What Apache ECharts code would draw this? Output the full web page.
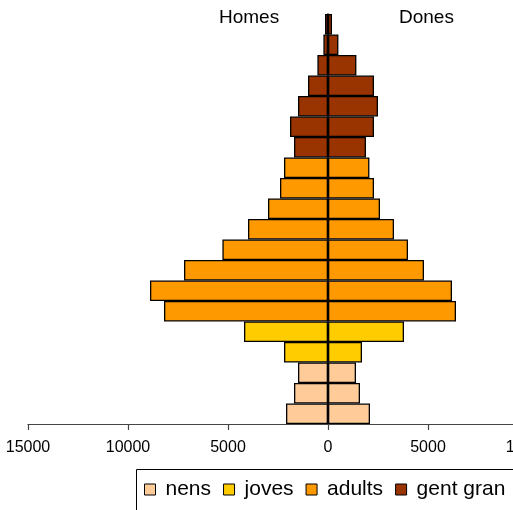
<!DOCTYPE html>
<html>
<head>
<meta charset="utf-8">
<script src="https://cdn.jsdelivr.net/npm/echarts@6/dist/echarts.min.js"></script>
<style>
html,body{margin:0;padding:0;background:#fff;}
#chart{width:513px;height:510px;}
</style>
</head>
<body>
<div id="chart"></div>
<script>
// Age groups, bottom to top
var ageGroups = ['0-4','5-9','10-14','15-19','20-24','25-29','30-34','35-39','40-44','45-49','50-54','55-59','60-64','65-69','70-74','75-79','80-84','85-89','90-94','95+'];
// group of each row
var groupOf = ['nens','nens','nens','joves','joves','adults','adults','adults','adults','adults','adults','adults','adults','gent gran','gent gran','gent gran','gent gran','gent gran','gent gran','gent gran'];
var homes = [2100,1700,1500,2200,4200,8200,8900,7200,5280,4000,3000,2400,2200,1700,1900,1500,1000,530,230,150];
var dones = [2100,1600,1400,1700,3800,6400,6200,4800,4000,3300,2600,2300,2070,1900,2300,2500,2300,1420,520,200];
var groupNames = ['nens','joves','adults','gent gran'];
var groupColors = ['#FFCC99','#FFCC00','#FF9900','#993300'];
var xTicks = {min:-15000, max:15000, interval:5000};

var series = [];
groupNames.forEach(function(g, gi){
  [['h', homes, -1], ['d', dones, 1]].forEach(function(side){
    series.push({
      name: g,
      type: 'bar',
      stack: 'pop',
      barWidth: '100%',
      barCategoryGap: '0%',
      itemStyle: {color: groupColors[gi], borderColor: '#000', borderWidth: 1.3},
      emphasis: {disabled: true},
      data: side[1].map(function(v, i){ return groupOf[i] === g ? side[2]*v : '-'; })
    });
  });
});

var chart = echarts.init(document.getElementById('chart'), null, {renderer:'canvas'});
chart.setOption({
  animation: false,
  backgroundColor: '#fff',
  grid: {left: 28, top: 14, right: -115, bottom: 86, outerBoundsMode: 'none', containLabel: false},
  xAxis: {
    type: 'value',
    min: xTicks.min, max: xTicks.max, interval: xTicks.interval,
    splitLine: {show: false},
    axisLine: {show: true, lineStyle: {color: '#444', width: 1.2}},
    axisTick: {show: true, length: 6, lineStyle: {color: '#444', width: 1.2}},
    axisLabel: {
      margin: 16, color: '#000', fontSize: 16, fontFamily: 'Liberation Sans, Arial',
      formatter: function(v){ return String(Math.abs(v)); }
    }
  },
  yAxis: {
    type: 'category',
    data: ageGroups,
    axisLine: {show: true, onZero: true, lineStyle: {color: '#000', width: 1.6}},
    axisTick: {show: false},
    axisLabel: {show: false}
  },
  legend: {
    left: 136, top: 469, width: 420,
    padding: [10, 40, 40, 8],
    borderWidth: 0,
    itemWidth: 11, itemHeight: 11, itemGap: 12,
    icon: 'rect',
    itemStyle: {borderColor: '#000', borderWidth: 1},
    textStyle: {fontSize: 21, fontFamily: 'Liberation Sans, Arial', color: '#000', padding: [0,0,0,5]},
    data: groupNames,
    selectedMode: false
  },
  graphic: [
    {type: 'rect', shape: {x: 136.5, y: 469.5, width: 500, height: 100}, style: {fill: 'none', stroke: '#000', lineWidth: 1}, z: 0},
    {type: 'text', left: 219, top: 8, style: {text: 'Homes', font: '19px "Liberation Sans", Arial', fill: '#000'}},
    {type: 'text', left: 399, top: 8, style: {text: 'Dones', font: '19px "Liberation Sans", Arial', fill: '#000'}}
  ],
  series: series
});
</script>
</body>
</html>
